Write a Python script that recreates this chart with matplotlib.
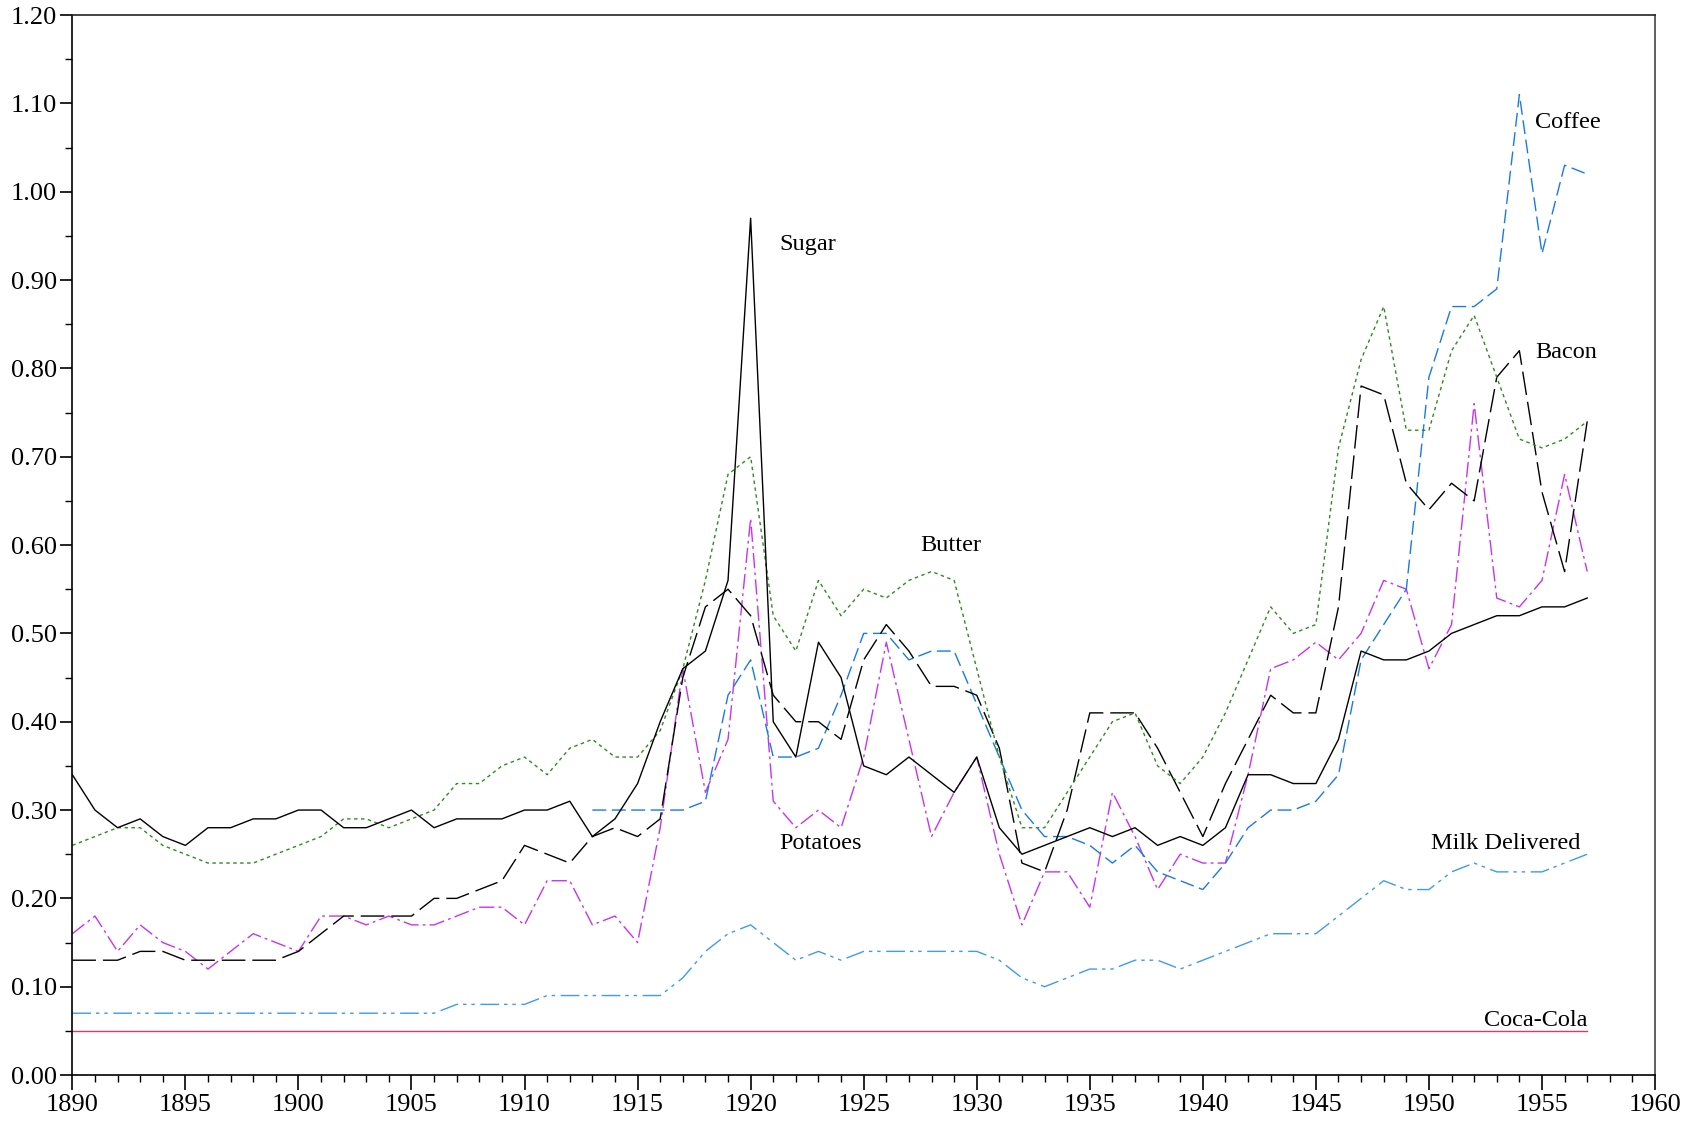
import numpy as np
import matplotlib
matplotlib.use("Agg")
import matplotlib.pyplot as plt
from matplotlib.ticker import MultipleLocator, FormatStrFormatter

# prices per item, 1890-1957
years = np.arange(1890, 1958)

sugar = [0.34, 0.30, 0.28, 0.29, 0.27, 0.26, 0.28, 0.28, 0.29, 0.29,
         0.30, 0.30, 0.28, 0.28, 0.29, 0.30, 0.28, 0.29, 0.29, 0.29,
         0.30, 0.30, 0.31, 0.27, 0.29, 0.33, 0.40, 0.46, 0.48, 0.56,
         0.97, 0.40, 0.36, 0.49, 0.45, 0.35, 0.34, 0.36, 0.34, 0.32,
         0.36, 0.28, 0.25, 0.26, 0.27, 0.28, 0.27, 0.28, 0.26, 0.27,
         0.26, 0.28, 0.34, 0.34, 0.33, 0.33, 0.38, 0.48, 0.47, 0.47,
         0.48, 0.50, 0.51, 0.52, 0.52, 0.53, 0.53, 0.54]

butter = [0.26, 0.27, 0.28, 0.28, 0.26, 0.25, 0.24, 0.24, 0.24, 0.25,
          0.26, 0.27, 0.29, 0.29, 0.28, 0.29, 0.30, 0.33, 0.33, 0.35,
          0.36, 0.34, 0.37, 0.38, 0.36, 0.36, 0.39, 0.46, 0.56, 0.68,
          0.70, 0.52, 0.48, 0.56, 0.52, 0.55, 0.54, 0.56, 0.57, 0.56,
          0.46, 0.36, 0.28, 0.28, 0.32, 0.36, 0.40, 0.41, 0.35, 0.33,
          0.36, 0.41, 0.47, 0.53, 0.50, 0.51, 0.71, 0.81, 0.87, 0.73,
          0.73, 0.82, 0.86, 0.79, 0.72, 0.71, 0.72, 0.74]

bacon = [0.13, 0.13, 0.13, 0.14, 0.14, 0.13, 0.13, 0.13, 0.13, 0.13,
         0.14, 0.16, 0.18, 0.18, 0.18, 0.18, 0.20, 0.20, 0.21, 0.22,
         0.26, 0.25, 0.24, 0.27, 0.28, 0.27, 0.29, 0.45, 0.53, 0.55,
         0.52, 0.43, 0.40, 0.40, 0.38, 0.47, 0.51, 0.48, 0.44, 0.44,
         0.43, 0.37, 0.24, 0.23, 0.30, 0.41, 0.41, 0.41, 0.37, 0.32,
         0.27, 0.33, 0.38, 0.43, 0.41, 0.41, 0.53, 0.78, 0.77, 0.67,
         0.64, 0.67, 0.65, 0.79, 0.82, 0.66, 0.57, 0.74]

# coffee series starts in 1913
coffee_years = np.arange(1913, 1958)
coffee = [0.30, 0.30, 0.30, 0.30, 0.30, 0.31, 0.43, 0.47, 0.36, 0.36,
          0.37, 0.43, 0.50, 0.50, 0.47, 0.48, 0.48, 0.42, 0.36, 0.30,
          0.27, 0.27, 0.26, 0.24, 0.26, 0.23, 0.22, 0.21, 0.24, 0.28,
          0.30, 0.30, 0.31, 0.34, 0.47, 0.51, 0.55, 0.79, 0.87, 0.87,
          0.89, 1.11, 0.93, 1.03, 1.02]

potatoes = [0.16, 0.18, 0.14, 0.17, 0.15, 0.14, 0.12, 0.14, 0.16, 0.15,
            0.14, 0.18, 0.18, 0.17, 0.18, 0.17, 0.17, 0.18, 0.19, 0.19,
            0.17, 0.22, 0.22, 0.17, 0.18, 0.15, 0.28, 0.46, 0.32, 0.38,
            0.63, 0.31, 0.28, 0.30, 0.28, 0.36, 0.49, 0.38, 0.27, 0.32,
            0.36, 0.25, 0.17, 0.23, 0.23, 0.19, 0.32, 0.27, 0.21, 0.25,
            0.24, 0.24, 0.34, 0.46, 0.47, 0.49, 0.47, 0.50, 0.56, 0.55,
            0.46, 0.51, 0.76, 0.54, 0.53, 0.56, 0.68, 0.57]

milk = [0.07, 0.07, 0.07, 0.07, 0.07, 0.07, 0.07, 0.07, 0.07, 0.07,
        0.07, 0.07, 0.07, 0.07, 0.07, 0.07, 0.07, 0.08, 0.08, 0.08,
        0.08, 0.09, 0.09, 0.09, 0.09, 0.09, 0.09, 0.11, 0.14, 0.16,
        0.17, 0.15, 0.13, 0.14, 0.13, 0.14, 0.14, 0.14, 0.14, 0.14,
        0.14, 0.13, 0.11, 0.10, 0.11, 0.12, 0.12, 0.13, 0.13, 0.12,
        0.13, 0.14, 0.15, 0.16, 0.16, 0.16, 0.18, 0.20, 0.22, 0.21,
        0.21, 0.23, 0.24, 0.23, 0.23, 0.23, 0.24, 0.25]

coca_cola = [0.05] * len(years)

plt.rcParams['font.family'] = ['Liberation Serif', 'DejaVu Serif']

fig = plt.figure(figsize=(16.94, 11.23), dpi=100)
ax = fig.add_axes([0.0427, 0.0427, 0.9343, 0.9439])

lw = 1.0
ax.plot(years, coca_cola, color='#E8336A', lw=lw)
ax.plot(years, milk, color='#3D9BF0', lw=lw, dashes=(13.5, 3.5, 2.5, 3.5, 2.5, 4))
ax.plot(years, potatoes, color='#C833F0', lw=lw, dashes=(11, 3, 2, 3))
ax.plot(coffee_years, coffee, color='#1A7AE0', lw=lw, dashes=(10, 4))
ax.plot(years, bacon, color='black', lw=lw, dashes=(17, 5))
ax.plot(years, butter, color='#2E8B22', lw=lw, dashes=(2.5, 2.5))
ax.plot(years, sugar, color='black', lw=lw)

# series labels
fs = 17.5
ax.text(1921.25, 0.94, 'Sugar', fontsize=fs, va='center')
ax.text(1927.5, 0.60, 'Butter', fontsize=fs, va='center')
ax.text(1921.25, 0.262, 'Potatoes', fontsize=fs, va='center')
ax.text(1954.7, 1.078, 'Coffee', fontsize=fs, va='center')
ax.text(1954.7, 0.818, 'Bacon', fontsize=fs, va='center')
ax.text(1956.7, 0.262, 'Milk Delivered', fontsize=fs, va='center', ha='right')
ax.text(1957.0, 0.062, 'Coca-Cola', fontsize=fs, va='center', ha='right')

ax.set_xlim(1890, 1960)
ax.set_ylim(0, 1.20)
ax.xaxis.set_major_locator(MultipleLocator(5))
ax.xaxis.set_minor_locator(MultipleLocator(1))
ax.yaxis.set_major_locator(MultipleLocator(0.10))
ax.yaxis.set_minor_locator(MultipleLocator(0.05))
ax.yaxis.set_major_formatter(FormatStrFormatter('%.2f'))

ax.tick_params(which='major', direction='out', length=11, width=1.2, labelsize=19)
ax.tick_params(which='minor', direction='out', length=5, width=1.0)
ax.tick_params(axis='y', which='major', length=9, pad=2)
ax.tick_params(axis='x', which='major', pad=3)
ax.tick_params(top=False, right=False)
for s in ax.spines.values():
    s.set_linewidth(1.2)
ax.spines['right'].set_color('#444444')
ax.spines['top'].set_color('#222222')

fig.savefig('out.png', dpi=100)
